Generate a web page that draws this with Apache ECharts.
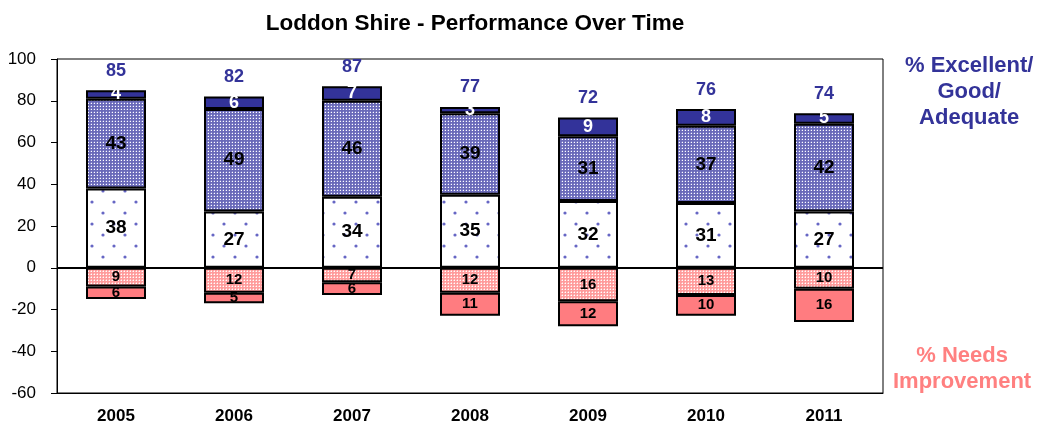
<!DOCTYPE html>
<html><head><meta charset="utf-8">
<script src="https://cdn.jsdelivr.net/npm/echarts@6/dist/echarts.min.js"></script>
<style>html,body{margin:0;padding:0;background:#fff}#c{width:1037px;height:427px}</style>
</head><body><div id="c"></div>
<script>
var years = ['2005','2006','2007','2008','2009','2010','2011'];
var adequate = [38,27,34,35,32,31,27];
var good = [43,49,46,39,31,37,42];
var excellent = [4,6,7,3,9,8,5];
var totals = [85,82,87,77,72,76,74];
var needsLight = [-9,-12,-7,-12,-16,-13,-10];
var needsDark = [-6,-5,-6,-11,-12,-10,-16];

function makePattern(w, h, draw) {
  var c = document.createElement('canvas'); c.width = w; c.height = h;
  var ctx = c.getContext('2d'); draw(ctx); return {image: c, repeat: 'repeat'};
}
var goodPat = makePattern(6, 6, function (ctx) {
  ctx.fillStyle = '#6a6ab8'; ctx.fillRect(0,0,6,6);
  ctx.fillStyle = '#8a8ad0';
  ctx.fillRect(0,1,1,1); ctx.fillRect(1,0,1,1); ctx.fillRect(3,4,1,1); ctx.fillRect(4,3,1,1);
  ctx.fillRect(0,4,1,1); ctx.fillRect(1,3,1,1); ctx.fillRect(3,1,1,1); ctx.fillRect(4,0,1,1);
  ctx.fillStyle = '#ffffff'; ctx.fillRect(1,1,1,1); ctx.fillRect(4,4,1,1); ctx.fillRect(1,4,1,1); ctx.fillRect(4,1,1,1);
});
var adequatePat = makePattern(22, 22, function (ctx) {
  ctx.fillStyle = '#ffffff'; ctx.fillRect(0,0,22,22);
  ctx.fillStyle = '#6666c4';
  ctx.beginPath(); ctx.arc(4,4,1.6,0,Math.PI*2); ctx.fill();
  ctx.beginPath(); ctx.arc(15,15,1.6,0,Math.PI*2); ctx.fill();
});
var pinkPat = makePattern(6, 6, function (ctx) {
  ctx.fillStyle = '#ff9c9c'; ctx.fillRect(0,0,6,6);
  ctx.fillStyle = '#ffc6c6';
  ctx.fillRect(0,1,1,1); ctx.fillRect(1,0,1,1); ctx.fillRect(3,4,1,1); ctx.fillRect(4,3,1,1);
  ctx.fillRect(0,4,1,1); ctx.fillRect(1,3,1,1); ctx.fillRect(3,1,1,1); ctx.fillRect(4,0,1,1);
  ctx.fillStyle = '#ffffff'; ctx.fillRect(1,1,1,1); ctx.fillRect(4,4,1,1); ctx.fillRect(1,4,1,1); ctx.fillRect(4,1,1,1);
});

var font = '"Liberation Sans", Arial, sans-serif';
function barSeries(name, data, color, lbl) {
  return {
    name: name, type: 'bar', stack: 's', data: data, barWidth: 60,
    itemStyle: {color: color, borderColor: '#000', borderWidth: 2},
    label: Object.assign({show: true, position: 'inside', fontFamily: font, fontWeight: 'bold',
      formatter: function (p) { return Math.abs(p.value); }}, lbl),
    emphasis: {disabled: true}
  };
}
var chart = echarts.init(document.getElementById('c'));
chart.setOption({
  animation: false,
  title: {text: 'Loddon Shire - Performance Over Time', left: 470, textAlign: 'center', top: 7,
    textStyle: {fontFamily: font, fontWeight: 'bold', fontSize: 22.5, color: '#000'}},
  grid: {left: 57, right: 154, top: 59, bottom: 34, show: true, borderColor: '#000', borderWidth: 1, backgroundColor: '#fff'},
  xAxis: {type: 'category', data: years,
    axisLine: {show: true, onZero: false, lineStyle: {color: '#000'}}, axisTick: {show: false},
    axisLabel: {fontFamily: font, fontWeight: 'bold', fontSize: 17, color: '#000', margin: 15}},
  yAxis: {type: 'value', min: -60, max: 100, interval: 20,
    axisLine: {show: true, lineStyle: {color: '#000'}}, axisTick: {show: true, length: 6, lineStyle: {color: '#000'}},
    splitLine: {show: false},
    axisLabel: {fontFamily: font, fontSize: 17, color: '#000', margin: 21}},
  series: [
    barSeries('Adequate', adequate, adequatePat, {fontSize: 19, color: '#000'}),
    barSeries('Good', good, goodPat, {fontSize: 19, color: '#000'}),
    barSeries('Excellent', excellent, '#33339a', {fontSize: 18, color: '#fff'}),
    Object.assign(barSeries('NeedsLight', needsLight, pinkPat, {fontSize: 15, color: '#000'}), {
      markLine: {silent: true, symbol: 'none', label: {show: false},
        lineStyle: {color: '#000', type: 'solid', width: 2}, data: [{yAxis: 0}]}
    }),
    barSeries('NeedsDark', needsDark, '#ff7c80', {fontSize: 15, color: '#000'}),
    {type: 'line', data: totals, symbol: 'circle', symbolSize: 1, showSymbol: true, silent: true,
      lineStyle: {width: 0, opacity: 0}, itemStyle: {color: 'rgba(0,0,0,0)'},
      label: {show: true, position: 'top', distance: 10, fontFamily: font, fontWeight: 'bold', fontSize: 18, color: '#333399'}}
  ],
  graphic: [
    {type: 'text', left: 905, top: 53, style: {text: '% Excellent/\nGood/\nAdequate', x: 80, textAlign: 'center',
      fill: '#333399', font: 'bold 22px ' + font, lineHeight: 26}},
    {type: 'text', left: 893, top: 343, style: {text: '% Needs\nImprovement', x: 80, textAlign: 'center',
      fill: '#ff8080', font: 'bold 22px ' + font, lineHeight: 26}}
  ]
});
</script></body></html>
